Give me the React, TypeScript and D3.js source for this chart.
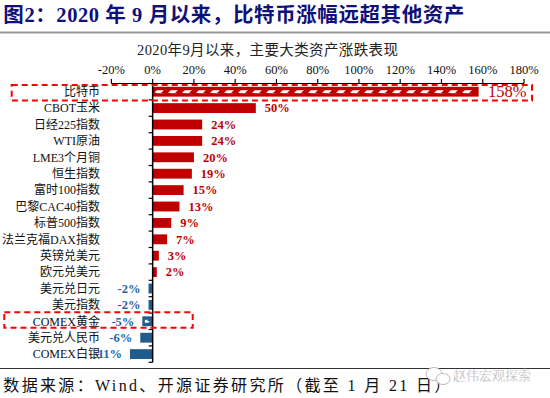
import React from "react";
import * as d3 from "d3";

const categories = [
  "比特币", "CBOT玉米", "日经225指数", "WTI原油", "LME3个月铜", "恒生指数",
  "富时100指数", "巴黎CAC40指数", "标普500指数", "法兰克福DAX指数", "英镑兑美元",
  "欧元兑美元", "美元兑日元", "美元指数", "COMEX黄金", "美元兑人民币", "COMEX白银",
];
const values = [158, 50, 24, 24, 20, 19, 15, 13, 9, 7, 3, 2, -2, -2, -5, -6, -11];
const valueLabels = ["158%", "50%", "24%", "24%", "20%", "19%", "15%", "13%", "9%", "7%", "3%", "2%", "-2%", "-2%", "-5%", "-6%", "-11%"];
const ticks = [-20, 0, 20, 40, 60, 80, 100, 120, 140, 160, 180];
const highlighted = ["比特币", "COMEX黄金"];

const title = "图2：2020 年 9 月以来，比特币涨幅远超其他资产";
const subtitle = "2020年9月以来，主要大类资产涨跌表现";
const source = "数据来源：Wind、开源证券研究所（截至 1 月 21 日）";
const watermark = "赵伟宏观探索";

const RED = "#c00000";
const BLUE = "#1f5b8c";
const BLUE_TXT = "#2266a8";
const FONT = "'Liberation Serif', 'Noto Sans CJK SC', serif";

export default function App() {
  const x = d3.scaleLinear().domain([-20, 180]).range([111.4, 524]);
  const y = d3.scaleBand<string>().domain(categories).range([83.5, 83.5 + 17 * 16.4]).paddingInner(0.4).paddingOuter(0.2);
  const step = y.step();
  const yTop = 83.5;
  const yBot = 83.5 + 17 * 16.4;
  const x0 = x(0);

  return (
    <svg width={550} height={398} style={{ position: "absolute", left: 0, top: 0, background: "#fff" }} fontFamily={FONT}>
      <defs>
        <pattern id="hatch" patternUnits="userSpaceOnUse" width={14} height={3}>
          <polygon points="0,3 3,0 10,0 7,3" fill="#fff" />
        </pattern>
      </defs>
      <rect width={550} height={398} fill="#fff" />
      {/* title */}
      <text x={3.3} y={22} fontSize={20.5} fontWeight="bold" fill="#10107a" textLength={461} lengthAdjust="spacing">{title}</text>
      <line x1={0} x2={550} y1={32.5} y2={32.5} stroke="#999" strokeWidth={2} />

      {/* subtitle */}
      <text x={137} y={55} fontSize={14.5} fill="#222" textLength={261} lengthAdjust="spacing">{subtitle}</text>

      {/* x axis */}
      <line x1={x(-20)} x2={x(180)} y1={yTop} y2={yTop} stroke="#000" strokeWidth={1.2} />
      {ticks.map((t) => (
        <g key={t}>
          <line x1={x(t)} x2={x(t)} y1={yTop - 4.5} y2={yTop} stroke="#000" strokeWidth={1.2} />
          <text x={x(t)} y={73.5} fontSize={12.5} textAnchor="middle" fill="#111">{t}%</text>
        </g>
      ))}

      {/* bars */}
      {categories.map((c, i) => {
        const v = values[i];
        const by = y(c)!;
        const bh = y.bandwidth();
        const xs = Math.min(x(v), x0);
        const w = Math.abs(x(v) - x0);
        const col = v >= 0 ? RED : BLUE;
        const hi = highlighted.includes(c);
        return (
          <g key={c}>
            <rect x={xs} y={by} width={w} height={bh} fill={col} />
            {hi && (
              <rect x={xs + 2.5} y={by + bh / 2 - 1.5} width={Math.max(w - 5, 0)} height={3} fill="url(#hatch)" />
            )}
          </g>
        );
      })}

      {/* y axis */}
      <line x1={x0} x2={x0} y1={yTop} y2={yBot} stroke="#000" strokeWidth={1.5} />
      {d3.range(categories.length + 1).map((k) => (
        <line key={k} x1={x0 - 4} x2={x0} y1={yTop + k * step} y2={yTop + k * step} stroke="#000" strokeWidth={1.2} />
      ))}

      {/* value labels */}
      {categories.map((c, i) => {
        const v = values[i];
        const cy = y(c)! + y.bandwidth() / 2;
        if (i === 0) {
          return (
            <text key={c} x={x(v) + 9.5} y={cy + 5.5} fontSize={16.5} fill={RED}>{valueLabels[i]}</text>
          );
        }
        return v >= 0 ? (
          <text key={c} x={x(v) + 9} y={cy + 4.3} fontSize={12.5} fontWeight="bold" fill={RED}>{valueLabels[i]}</text>
        ) : (
          <text key={c} x={x(v) - 8} y={cy + 4.3} fontSize={12.5} fontWeight="bold" fill={BLUE_TXT} textAnchor="end">{valueLabels[i]}</text>
        );
      })}

      {/* category labels */}
      {categories.map((c) => (
        <text key={c} x={100} y={y(c)! + y.bandwidth() / 2 + 4.2} fontSize={12} textAnchor="end" fill="#111">{c}</text>
      ))}

      {/* highlight boxes */}
      <rect x={11.7} y={y("比特币")! - step * 0.2 + 1.5} width={520.3} height={step - 0.8} fill="none" stroke="#ff0000" strokeWidth={2} strokeDasharray="6 4" />
      <rect x={4.3} y={y("COMEX黄金")! - step * 0.2 - 0.8} width={188.4} height={step - 1} fill="none" stroke="#ff0000" strokeWidth={2} strokeDasharray="6 4" />

      {/* bottom */}
      <line x1={0} x2={550} y1={368.5} y2={368.5} stroke="#333" strokeWidth={1} />
      <text x={3.3} y={391} fontSize={16} fill="#111" textLength={447} lengthAdjust="spacing">{source}</text>

      {/* watermark */}
      <g stroke="#bbb" fill="#fff" strokeWidth={1}>
        <ellipse cx={434} cy={374} rx={8} ry={6.5} />
        <ellipse cx={443} cy={379} rx={7} ry={5.5} />
      </g>
      <text x={453} y={380} fontSize={13} fill="#aaa" fontFamily="'Noto Sans CJK SC', sans-serif" stroke="#fff" strokeWidth={0.3}>{watermark}</text>
    </svg>
  );
}
